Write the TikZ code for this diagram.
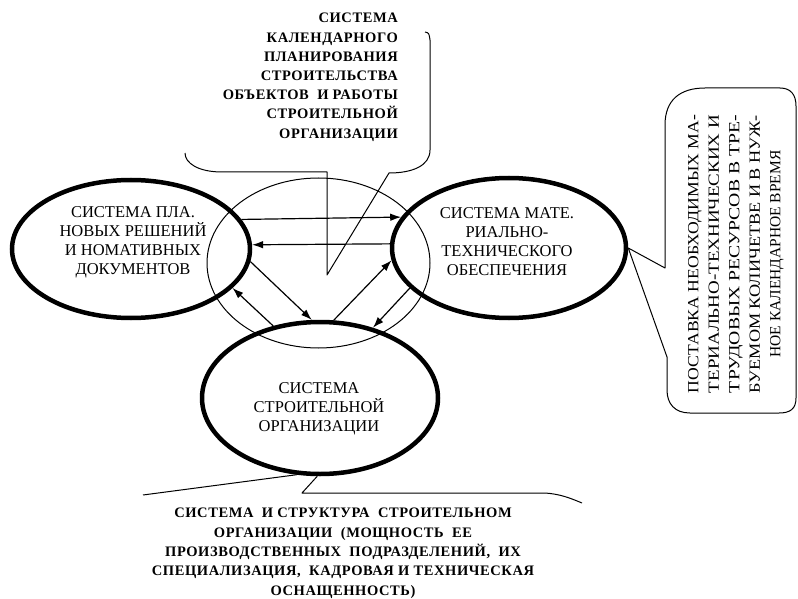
\documentclass[tikz,border=0pt]{standalone}
\usepackage{graphicx}
\usepackage{fontspec}
\setmainfont{Liberation Serif}
\newfontfamily\spacedfont[LetterSpace=4]{Liberation Serif}
\usetikzlibrary{arrows.meta, shapes.geometric}

\begin{document}
\begin{tikzpicture}[
    x=1pt, y=-1pt,
    system/.style={ellipse, draw, line width=4.5pt, inner sep=0pt},
    sys text/.style={align=center, inner sep=0pt, font=\fontsize{16.5}{18.8}\selectfont},
    core/.style={ellipse, draw, line width=1pt, inner sep=0pt, minimum width=223pt, minimum height=170pt},
    calendar text/.style={inner sep=0pt, font=\spacedfont\bfseries\fontsize{14.5}{19.2}\selectfont},
    structure text/.style={inner sep=0pt, font=\spacedfont\bfseries\fontsize{14.5}{19.3}\selectfont},
    supply text/.style={inner sep=0pt, font=\fontsize{15.5}{20.5}\selectfont},
    callout/.style={line width=1pt, line join=round},
    link/.style={->, line width=1.2pt},
    >={Latex[length=11pt, width=7.5pt]}
]
    \useasboundingbox (0,0) rectangle (798,599);

    % thin circle in the middle
    \node[core] (core) at (318.5,263) {};

    % the three systems
    \node[system, minimum width=238pt, minimum height=138pt] (plan) at (131,249) {};
    \node[system, minimum width=234pt, minimum height=140pt] (mat) at (509,248) {};
    \node[system, minimum width=236pt, minimum height=152pt] (org) at (320,398) {};

    \node[sys text, anchor=north] (plan text) at (133,206.5)
        {СИСТЕМА ПЛА.\\НОВЫХ РЕШЕНИЙ\\И НОМАТИВНЫХ\\ДОКУМЕНТОВ};
    \node[sys text, anchor=north] (mat text) at (507,207.5)
        {СИСТЕМА МАТЕ.\\РИАЛЬНО-\\ТЕХНИЧЕСКОГО\\ОБЕСПЕЧЕНИЯ};
    \node[sys text, anchor=north] (org text) at (319,382.5)
        {СИСТЕМА\\СТРОИТЕЛЬНОЙ\\ОРГАНИЗАЦИИ};

    % links between the systems
    \draw[link] (plan.15.8) -- (mat.164.5);
    \draw[link] (mat.178.5) -- (plan.2);
    \draw[link] (plan.-6.7) -- (org.96);
    \draw[link] (org.123.3) -- (plan.-21);
    \draw[link] (org.80.3) -- (mat.186);
    \draw[link] (mat.202.4) -- (org.53.8);

    % callout at the top
    \node[calendar text, align=right, anchor=north east] (calendar note) at (398,13)
        {СИСТЕМА\\КАЛЕНДАРНОГО\\ПЛАНИРОВАНИЯ\\СТРОИТЕЛЬСТВА\\ОБЪЕКТОВ~~И РАБОТЫ\\СТРОИТЕЛЬНОЙ\\ОРГАНИЗАЦИИ};
    \coordinate (calendar tip) at (327,275);
    \draw[callout] (425,32) .. controls (429,33) .. (430,40) -- (430,150)
        .. controls (430,166) and (412,173) .. (389,173) -- (calendar tip)
        -- (327,172) -- (222,172) .. controls (198,172) and (185,163) .. (185,153);

    % callout on the right
    \node[supply text, rotate=90, align=center] (supply note) at (736,254)
        {\resizebox{278pt}{\height}{ПОСТАВКА НЕОБХОДИМЫХ МА-}\\
         \resizebox{278pt}{\height}{ТЕРИАЛЬНО-ТЕХНИЧЕСКИХ И}\\
         \resizebox{278pt}{\height}{ТРУДОВЫХ РЕСУРСОВ В ТРЕ-}\\
         \resizebox{278pt}{\height}{БУЕМОМ КОЛИЧЕТВЕ И В НУЖ-}\\
         НОЕ КАЛЕНДАРНОЕ ВРЕМЯ};
    \draw[callout] (665,268) -- (665,125) .. controls (665,100) and (680,88) .. (705,88)
        -- (780,88) .. controls (791,88) and (796,95) .. (796,106) -- (796,398)
        .. controls (796,409) and (790,413) .. (779,413) -- (690,413)
        .. controls (675,413) and (667,404) .. (667,390) -- (667,357) -- (mat.east) -- cycle;

    % callout at the bottom
    \node[structure text, align=center, anchor=north] (structure note) at (343,508)
        {СИСТЕМА~~И СТРУКТУРА~~СТРОИТЕЛЬНОМ\\ОРГАНИЗАЦИИ~~(МОЩНОСТЬ~~ЕЕ\\ПРОИЗВОДСТВЕННЫХ~~ПОДРАЗДЕЛЕНИЙ,~~ИХ\\СПЕЦИАЛИЗАЦИЯ,~~КАДРОВАЯ И ТЕХНИЧЕСКАЯ\\ОСНАЩЕННОСТЬ)};
    \draw[callout] (143,495) -- (org.-107);
    \draw[callout] (org.-92) -- (302,493) -- (545,493) .. controls (560,494) and (570,498) .. (582,503);
\end{tikzpicture}
\end{document}
